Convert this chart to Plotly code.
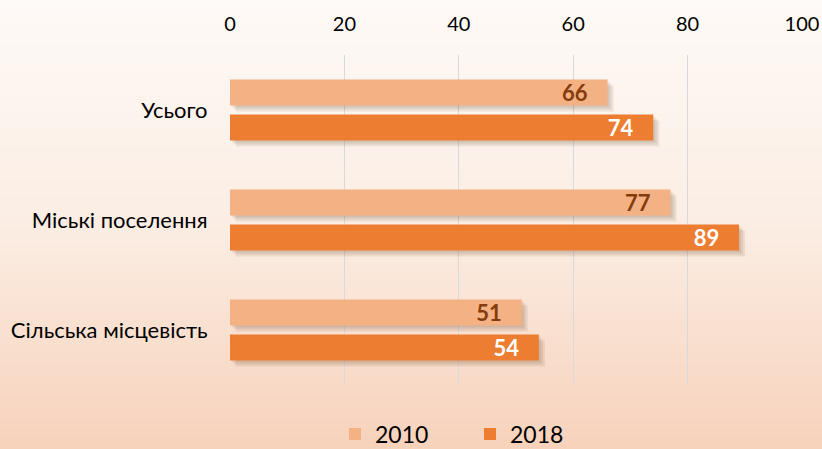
import zlib, struct, base64
import plotly.graph_objects as go

# ---- data ----
categories = ["Усього", "Міські поселення", "Сільська місцевість"]
values_2010 = [66, 77, 51]
values_2018 = [74, 89, 54]
series_names = ["2010", "2018"]
x_ticks = [0, 20, 40, 60, 80, 100]

# ---- style ----
W, H = 822, 449
ML, MR, MT, MB = 230, 20, 55, 64
PW, PH = W - ML - MR, H - MT - MB
FONT = "Lato"
C2010, C2018 = "#F4B183", "#ED7D31"
px_per_unit = PW / 100.0
px_per_cat = PH / 3.0


def gradient_png(h, stops):
    rows = b""
    for i in range(h):
        t = i / (h - 1)
        for j in range(len(stops) - 1):
            t0, c0 = stops[j]
            t1, c1 = stops[j + 1]
            if t0 <= t <= t1:
                f = (t - t0) / (t1 - t0)
                c = [round(c0[k] + (c1[k] - c0[k]) * f) for k in range(3)]
                break
        rows += b"\x00" + bytes(c) * 4

    def chunk(tag, data):
        return (struct.pack(">I", len(data)) + tag + data +
                struct.pack(">I", zlib.crc32(tag + data) & 0xFFFFFFFF))

    ihdr = struct.pack(">IIBBBBB", 4, h, 8, 2, 0, 0, 0)
    png = (b"\x89PNG\r\n\x1a\n" + chunk(b"IHDR", ihdr) +
           chunk(b"IDAT", zlib.compress(rows)) + chunk(b"IEND", b""))
    return "data:image/png;base64," + base64.b64encode(png).decode()


bg = gradient_png(H, [(0.0, (254, 250, 247)), (0.5, (251, 237, 227)), (1.0, (247, 210, 187))])

fig = go.Figure()

bar_specs = [
    (series_names[0], values_2010, C2010, "#843C0C", -0.277),
    (series_names[1], values_2018, C2018, "#FFFFFF", 0.041),
]
bar_w = 0.236

# soft shadows
for name, vals, col, tcol, off in bar_specs:
    for d in (2, 4, 6):
        fig.add_trace(go.Bar(
            y=categories, x=vals, orientation="h",
            base=d / px_per_unit, offset=off + d / px_per_cat, width=bar_w,
            marker=dict(color="rgba(90,50,20,0.09)", line=dict(width=0)),
            showlegend=False, hoverinfo="skip",
        ))

for name, vals, col, tcol, off in bar_specs:
    fig.add_trace(go.Bar(
        y=categories, x=vals, orientation="h", name=name,
        offset=off, width=bar_w,
        marker=dict(color=col, line=dict(width=0)),
        text=[f"<b>{v}</b>\u00a0\u00a0\u00a0" for v in vals],
        textposition="inside", insidetextanchor="end",
        constraintext="none",
        textfont=dict(family=FONT, size=22, color=tcol),
        textangle=0,
        hoverinfo="skip",
    ))

fig.update_layout(
    width=W, height=H, autosize=False,
    margin=dict(l=ML, r=MR, t=MT, b=MB, pad=0, autoexpand=False),
    barmode="overlay",
    paper_bgcolor="#FBEDE3",
    plot_bgcolor="rgba(0,0,0,0)",
    font=dict(family=FONT, color="#000000"),
    images=[dict(
        source=bg, xref="paper", yref="paper",
        x=-ML / PW, y=1 + MT / PH, sizex=W / PW, sizey=H / PH,
        xanchor="left", yanchor="top", sizing="stretch", layer="below",
    )],
    xaxis=dict(
        range=[0, 100], side="top", tickvals=x_ticks,
        ticktext=[str(t) for t in x_ticks],
        showgrid=True, gridcolor="#D6D9DD", gridwidth=1.3,
        zeroline=False, showline=False, automargin=False,
        ticks="outside", ticklen=15, tickcolor="rgba(0,0,0,0)",
        tickfont=dict(family=FONT, size=20, color="#000000"),
    ),
    yaxis=dict(
        range=[2.5, -0.5], showgrid=False, zeroline=False, showline=False,
        automargin=False,
        ticks="outside", ticklen=17, tickcolor="rgba(0,0,0,0)",
        tickfont=dict(family=FONT, size=22, color="#000000"),
    ),
    legend=dict(
        orientation="h", x=(335 - ML) / PW, xanchor="left",
        y=-(434 - (MT + PH)) / PH, yanchor="middle",
        font=dict(family=FONT, size=23, color="#000000"),
        entrywidth=90, entrywidthmode="pixels",
        bgcolor="rgba(0,0,0,0)", traceorder="normal",
    ),
)

fig.write_html(
    "out.html",
    config={"displayModeBar": False},
    post_script="document.body.style.margin='0';document.body.style.padding='0';",
)
